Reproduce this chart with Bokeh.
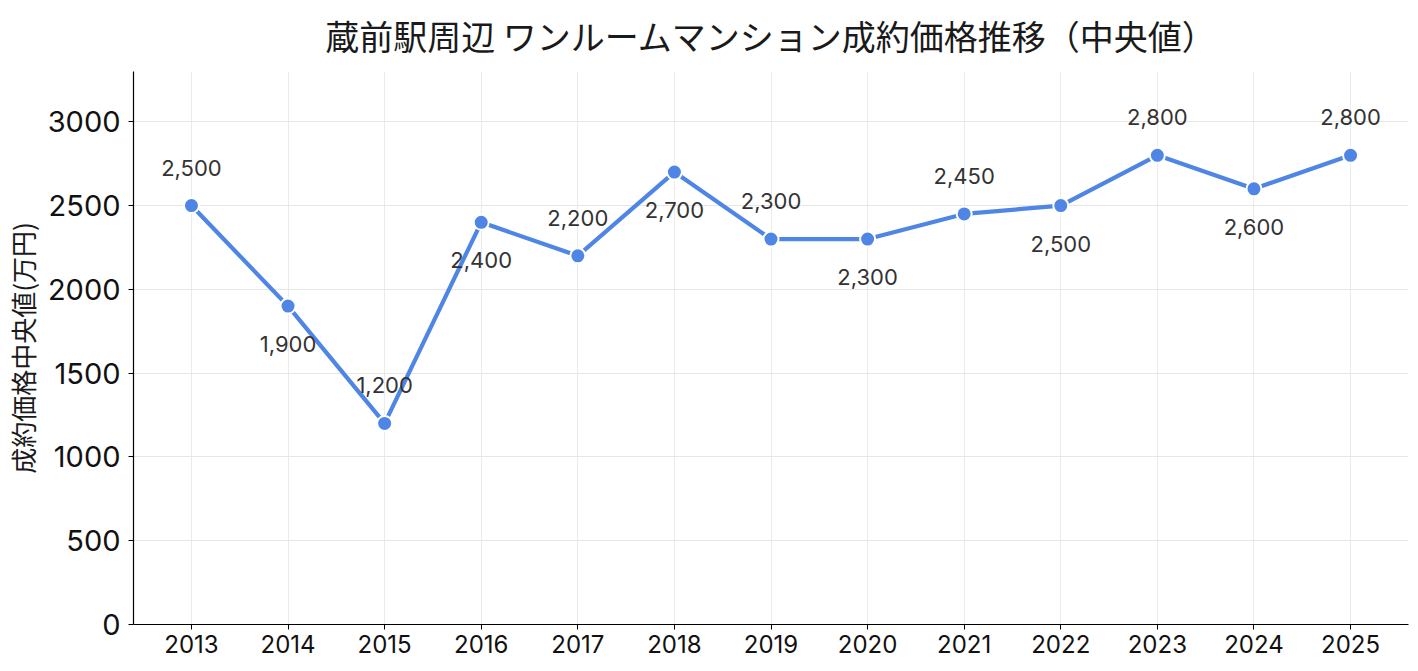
from bokeh.plotting import figure
from bokeh.models import ColumnDataSource, Range1d, FixedTicker
from bokeh.core.properties import value
from bokeh.embed import file_html
from bokeh.resources import INLINE

# ---- data ----
years = [2013, 2014, 2015, 2016, 2017, 2018, 2019, 2020, 2021, 2022, 2023, 2024, 2025]
prices = [2500, 1900, 1200, 2400, 2200, 2700, 2300, 2300, 2450, 2500, 2800, 2600, 2800]
y_ticks = [0, 500, 1000, 1500, 2000, 2500, 3000]
title_text = "蔵前駅周辺 ワンルームマンション成約価格推移（中央値）"
y_label = "成約価格中央値(万円)"

FONT = "Noto Sans CJK JP"
NUM_FONT = "Inter"
LINE_COLOR = "#4f86e6"

labels = [f"{v:,}" for v in prices]
offsets = [-38 if i % 2 == 0 else 38 for i in range(len(prices))]

src = ColumnDataSource(dict(x=years, y=prices, lab=labels, off=offsets))

p = figure(width=1418, height=668, output_backend="svg", toolbar_location=None,
           x_range=Range1d(years[0] - 0.6, years[-1] + 0.6),
           y_range=Range1d(0, 3300),
           min_border_left=133, min_border_right=10,
           min_border_top=71, min_border_bottom=44)

p.title.text = title_text
p.title.align = "center"
p.title.vertical_align = "top"
p.title.text_font = FONT
p.title.text_font_size = "34px"
p.title.text_font_style = "normal"
p.title.text_color = "#1a1a1a"
p.title.standoff = 20

p.outline_line_color = None
p.background_fill_color = "white"
p.border_fill_color = "white"

p.xaxis.ticker = FixedTicker(ticks=years)
p.yaxis.ticker = FixedTicker(ticks=y_ticks)
p.xaxis.minor_tick_line_color = None
p.yaxis.minor_tick_line_color = None
for ax in (p.xaxis[0], p.yaxis[0]):
    ax.axis_line_color = "black"
    ax.axis_line_width = 1.2
    ax.major_tick_line_color = "black"
    ax.major_tick_in = 0
    ax.major_tick_out = 5
    ax.major_label_text_font = NUM_FONT
    ax.major_label_text_color = "#111111"
p.xaxis.major_label_text_font_size = "24px"
p.yaxis.major_label_text_font_size = "29px"
p.xaxis.major_label_standoff = 5
p.yaxis.major_label_standoff = 8

p.yaxis.axis_label = y_label
p.yaxis.axis_label_text_font = FONT
p.yaxis.axis_label_text_font_size = "26px"
p.yaxis.axis_label_text_font_style = "normal"
p.yaxis.axis_label_text_color = "#1a1a1a"
p.yaxis.axis_label_standoff = 4

p.xgrid.grid_line_color = "#ebebeb"
p.ygrid.grid_line_color = "#e6e6e6"
p.xgrid.grid_line_width = 1
p.ygrid.grid_line_width = 1

p.line("x", "y", source=src, line_color=LINE_COLOR, line_width=4.2)
p.scatter("x", "y", source=src, size=15, fill_color=LINE_COLOR,
          line_color="white", line_width=2)
p.text("x", "y", text="lab", source=src, y_offset="off",
       text_align="center", text_baseline="middle",
       text_font=value(NUM_FONT), text_font_size="22px", text_color="#333333")

open("out.html", "w").write(file_html(p, INLINE))
